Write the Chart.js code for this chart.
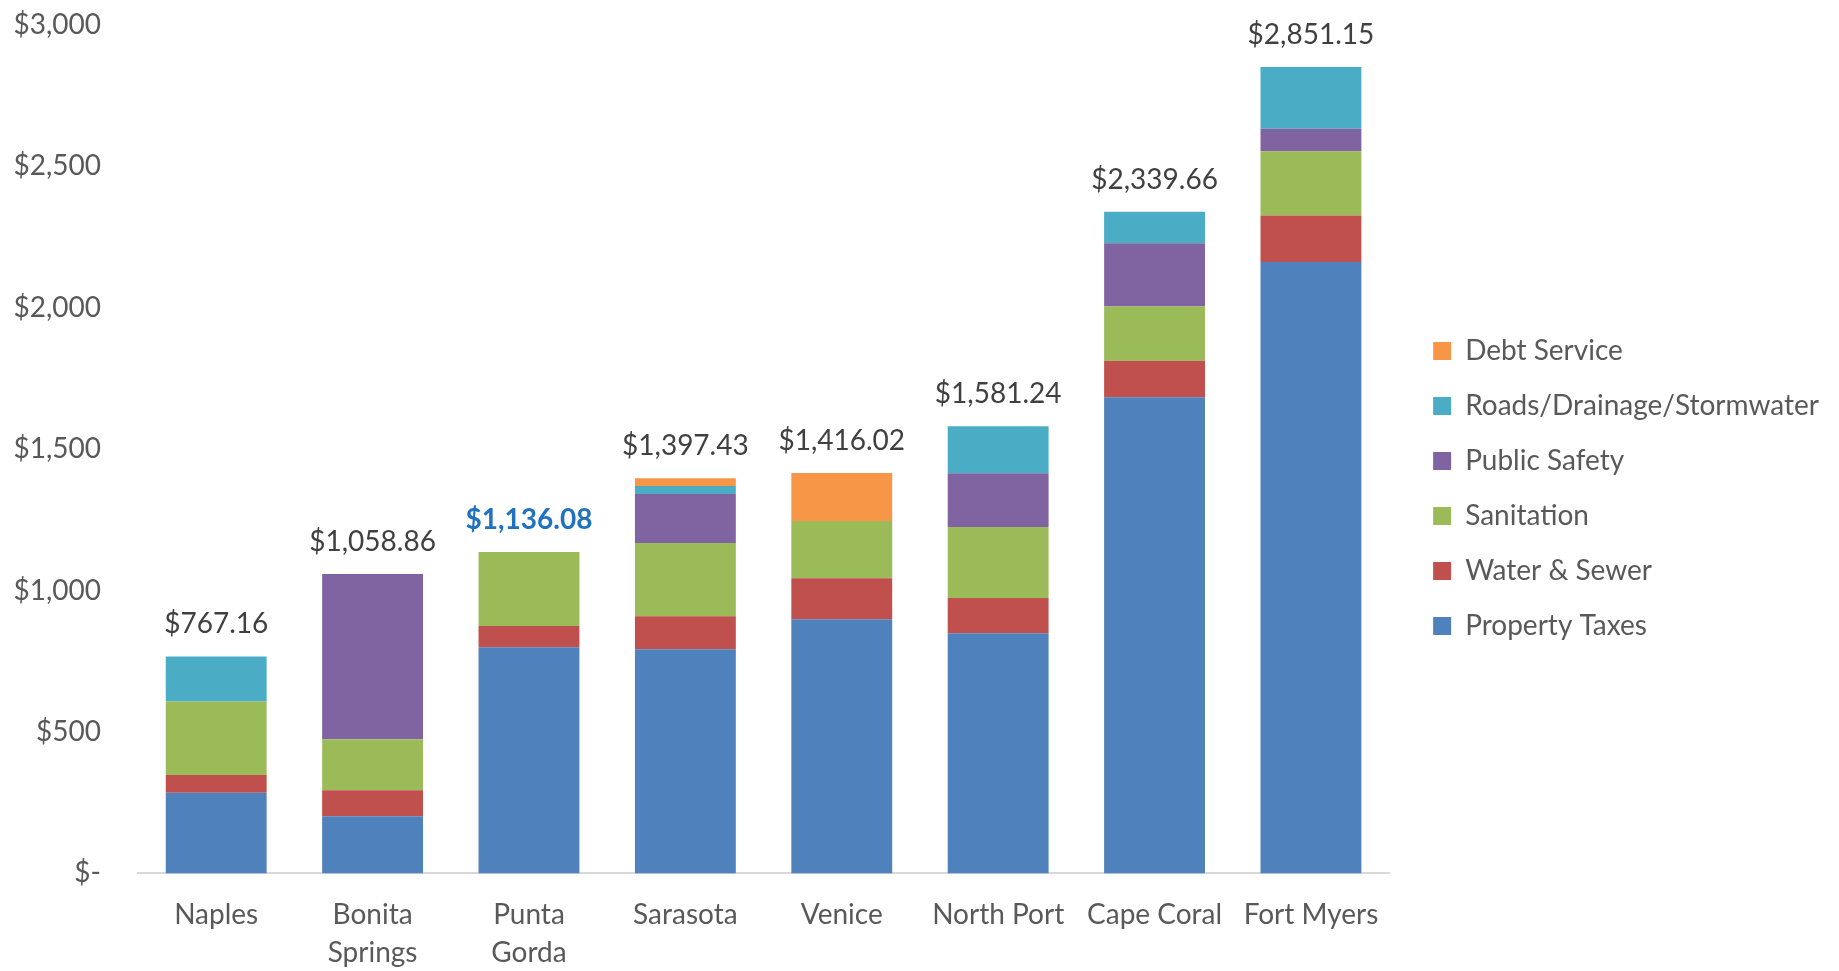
<!DOCTYPE html>
<html>
<head>
<meta charset="utf-8">
<script src="https://cdn.jsdelivr.net/npm/chart.js@4"></script>
<style>
  html, body { margin: 0; padding: 0; background: #ffffff; }
  #wrap { width: 1839px; height: 971px; position: relative; }
</style>
</head>
<body>
<div id="wrap"><canvas id="c"></canvas></div>
<script>
// ---- data ----
const categories = [["Naples"], ["Bonita", "Springs"], ["Punta", "Gorda"], ["Sarasota"], ["Venice"], ["North Port"], ["Cape Coral"], ["Fort Myers"]];
const propertyTaxes = [285, 202, 800, 793, 899, 849, 1684, 2162];
const waterSewer    = [63, 92, 75, 116, 145, 125, 129, 164];
const sanitation    = [260, 180, 261.08, 259, 202, 251, 192, 228];
const publicSafety  = [0, 584.86, 0, 174, 0, 190, 223, 79];
const roadsDrainage = [159.16, 0, 0, 28, 0, 166.24, 111.66, 218.15];
const debtService   = [0, 0, 0, 27.43, 170.02, 0, 0, 0];
const totals        = [767.16, 1058.86, 1136.08, 1397.43, 1416.02, 1581.24, 2339.66, 2851.15];
const highlightIndex = 2;
const yTickLabels = ["$-", "$500", "$1,000", "$1,500", "$2,000", "$2,500", "$3,000"];

const FONT = "Lato";
const fmtMoney = v => "$" + v.toLocaleString("en-US", { minimumFractionDigits: 2, maximumFractionDigits: 2 });

const totalLabelsPlugin = {
  id: "totalLabels",
  afterDatasetsDraw(chart) {
    const { ctx, scales: { x, y } } = chart;
    ctx.save();
    ctx.textAlign = "center";
    ctx.textBaseline = "middle";
    totals.forEach((t, i) => {
      const px = x.getPixelForValue(i);
      const py = y.getPixelForValue(t) - 32;
      const hl = i === highlightIndex;
      ctx.font = (hl ? "bold " : "") + "28px " + FONT;
      ctx.fillStyle = hl ? "#1F72C0" : "#404040";
      ctx.fillText(fmtMoney(t), px, py);
    });
    ctx.restore();
  }
};

const mk = (label, data, color) => ({
  label, data, backgroundColor: color, borderWidth: 0,
  categoryPercentage: 1.0, barPercentage: 0.645
});

new Chart(document.getElementById("c"), {
  type: "bar",
  data: {
    labels: categories,
    datasets: [
      mk("Property Taxes", propertyTaxes, "#4F81BD"),
      mk("Water & Sewer", waterSewer, "#C0504D"),
      mk("Sanitation", sanitation, "#9BBB59"),
      mk("Public Safety", publicSafety, "#8064A2"),
      mk("Roads/Drainage/Stormwater", roadsDrainage, "#4BACC6"),
      mk("Debt Service", debtService, "#F79646")
    ]
  },
  options: {
    responsive: true,
    maintainAspectRatio: false,
    animation: false,
    layout: { padding: { top: -18, right: 10, bottom: -24, left: 0 } },
    plugins: {
      tooltip: { enabled: false },
      legend: {
        position: "right",
        reverse: true,
        labels: {
          boxWidth: 18, boxHeight: 18, padding: 27,
          color: "#595959",
          font: { family: FONT, size: 28 }
        }
      }
    },
    scales: {
      x: {
        stacked: true,
        grid: { display: false, drawTicks: false },
        border: { display: true, color: "#D9D9D9", width: 2 },
        ticks: {
          color: "#595959", padding: 23, maxRotation: 0, autoSkip: false,
          font: { family: FONT, size: 28, lineHeight: 1.35 }
        }
      },
      y: {
        stacked: true,
        min: 0, max: 3000,
        grid: { display: false, drawTicks: false },
        border: { display: false },
        afterFit: s => { s.width = 138; s.paddingTop = 25; s.paddingBottom = 0; },
        ticks: {
          stepSize: 500, padding: 37, color: "#595959",
          font: { family: FONT, size: 28 },
          callback: (v, i) => yTickLabels[i]
        }
      },
      y2: {
        position: "right",
        display: false,
        afterFit: s => { s.width = 17; }
      }
    }
  },
  plugins: [totalLabelsPlugin]
});
</script>
</body>
</html>
